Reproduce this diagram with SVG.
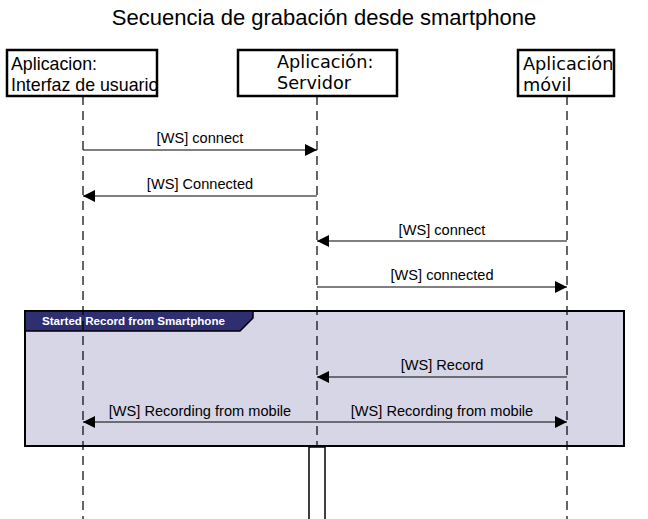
<svg xmlns="http://www.w3.org/2000/svg" width="648" height="519" viewBox="0 0 648 519">
<style>
.title{font-family:"Liberation Sans",Arial,sans-serif;font-size:22px;fill:#000}
.box{fill:#fff;stroke:#000;stroke-width:2.5}
.ntext{font-family:"DejaVu Sans",sans-serif;font-size:17.7px;fill:#000}
.ntext2{font-family:"Liberation Sans",Arial,sans-serif;font-size:17.8px;fill:#000}
.life{stroke:#000;stroke-width:1.2;stroke-dasharray:9 6;fill:none}
.msg{stroke:#000;stroke-width:1.2;fill:none}
.lbl{font-family:"Liberation Sans",Arial,sans-serif;font-size:14.6px;fill:#000;text-anchor:middle}
</style>
<defs>
<marker id="ah" viewBox="0 0 12 12" refX="12" refY="6" markerWidth="12" markerHeight="12" markerUnits="userSpaceOnUse" orient="auto-start-reverse">
<path d="M0,0 L12,6 L0,12 Z" fill="#000"/>
</marker>
<clipPath id="c1"><rect x="8" y="51" width="148" height="44"/></clipPath>
</defs>
<rect width="648" height="519" fill="#fff"/>
<text class="title" x="324" y="25" text-anchor="middle">Secuencia de grabación desde smartphone</text>

<g id="frame">
<rect x="25" y="311" width="599" height="135" fill="#d6d6e6" stroke="#000" stroke-width="2"/>
<path d="M25,311 H253 V318 L240,331 H25 Z" fill="#2e2e70" stroke="#000" stroke-width="1.5"/>
<text x="42" y="325" font-family="Liberation Sans,Arial,sans-serif" font-size="11.6" font-weight="bold" fill="#fff">Started Record from Smartphone</text>
</g>

<g id="lifelines">
<line class="life" x1="83" y1="96" x2="83" y2="519"/>
<line class="life" x1="317" y1="96" x2="317" y2="447"/>
<line class="life" x1="567" y1="96" x2="567" y2="519"/>
</g>

<g id="n1">
<rect class="box" x="7" y="50" width="150" height="46"/>
<g clip-path="url(#c1)">
<text class="ntext2" x="11" y="70">Aplicacion:</text>
<text class="ntext2" x="11" y="91">Interfaz de usuario</text>
</g>
</g>
<g id="n2">
<rect class="box" x="238" y="50" width="159" height="46"/>
<text class="ntext" x="277" y="68">Aplicación:</text>
<text class="ntext" x="277" y="89">Servidor</text>
</g>
<g id="n3">
<rect class="box" x="518" y="50" width="96" height="46"/>
<text class="ntext" x="523" y="70">Aplicación</text>
<text class="ntext" x="523" y="91">móvil</text>
</g>

<g id="activation">
<rect x="309" y="447" width="16" height="80" fill="#fff" stroke="#000" stroke-width="1.5"/>
</g>

<g id="connectors">
<line class="msg" x1="83" y1="150" x2="317" y2="150" marker-end="url(#ah)"/>
<text class="lbl" x="200" y="143">[WS] connect</text>
<line class="msg" x1="317" y1="196" x2="83" y2="196" marker-end="url(#ah)"/>
<text class="lbl" x="200" y="189">[WS] Connected</text>
<line class="msg" x1="567" y1="241" x2="317" y2="241" marker-end="url(#ah)"/>
<text class="lbl" x="442" y="235">[WS] connect</text>
<line class="msg" x1="317" y1="287" x2="567" y2="287" marker-end="url(#ah)"/>
<text class="lbl" x="442" y="280">[WS] connected</text>
<line class="msg" x1="567" y1="377" x2="317" y2="377" marker-end="url(#ah)"/>
<text class="lbl" x="442" y="370">[WS] Record</text>
<line class="msg" x1="83" y1="422" x2="567" y2="422" marker-start="url(#ah)" marker-end="url(#ah)"/>
<text class="lbl" x="200" y="416">[WS] Recording from mobile</text>
<text class="lbl" x="442" y="416">[WS] Recording from mobile</text>
</g>
</svg>
